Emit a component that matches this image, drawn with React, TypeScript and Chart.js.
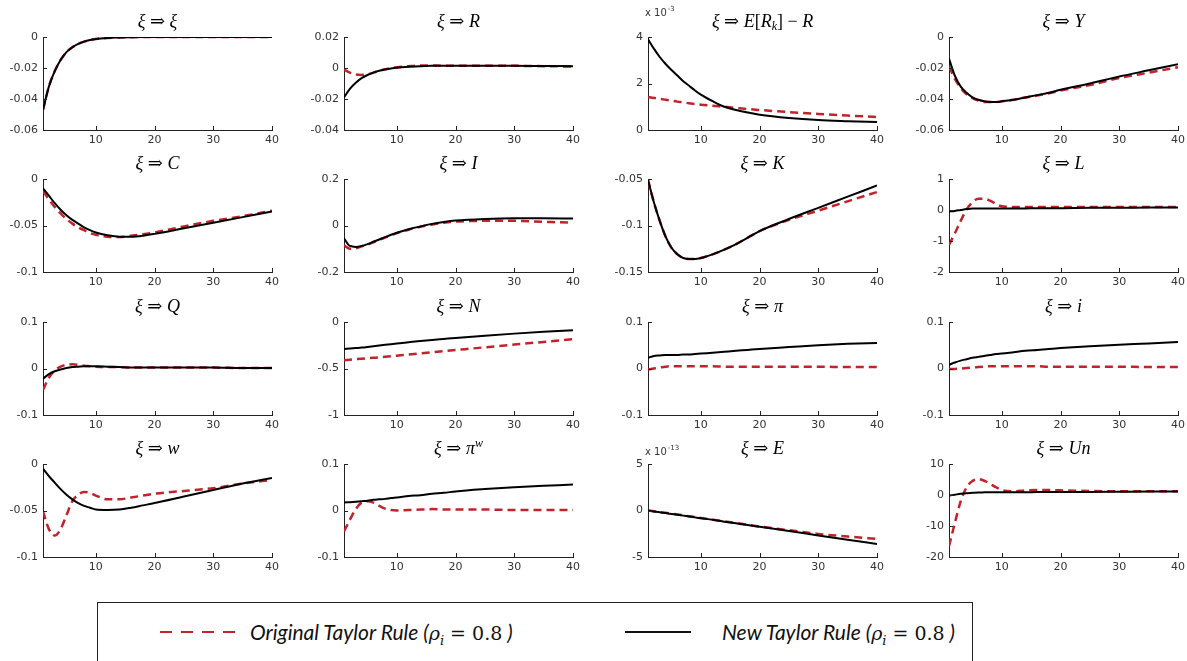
import React, { useEffect, useRef } from "react";
import { Chart, registerables } from "chart.js";
Chart.register(...registerables);

// ---------- data ----------
const PERIODS = [1, 2, 3, 4, 5, 6, 7, 8, 9, 10, 12, 14, 16, 18, 20, 25, 30, 35, 40];
const X_TICKS = [10, 20, 30, 40];
const SERIES_NAMES = ["Original Taylor Rule", "New Taylor Rule"];

const XI_NEW = [-0.047, -0.032, -0.022, -0.0148, -0.0098, -0.0066, -0.0044, -0.003, -0.002, -0.0013, -0.0006, -0.0003, -0.0001, 0, 0, 0, 0, 0, 0];
const XI_ORIG = [-0.047, -0.032, -0.022, -0.0148, -0.0098, -0.0066, -0.0044, -0.003, -0.002, -0.0013, -0.0006, -0.0003, -0.0001, 0, 0, 0, 0, 0, 0];

const R_NEW = [-0.019, -0.0135, -0.0095, -0.0065, -0.0045, -0.003, -0.0018, -0.001, -0.0003, 0.0002, 0.0008, 0.0012, 0.0014, 0.0015, 0.0015, 0.0015, 0.0014, 0.0013, 0.0012];
const R_ORIG = [-0.001, -0.003, -0.0042, -0.0045, -0.004, -0.003, -0.0018, -0.0008, 0, 0.0005, 0.0012, 0.0016, 0.0016, 0.0015, 0.0015, 0.0015, 0.0014, 0.0012, 0.0009];

// in units of 10^-3
const ERK_NEW = [3.9, 3.5, 3.14, 2.84, 2.58, 2.34, 2.1, 1.9, 1.7, 1.52, 1.24, 1.0, 0.86, 0.75, 0.66, 0.52, 0.43, 0.38, 0.34];
const ERK_ORIG = [1.42, 1.38, 1.34, 1.3, 1.26, 1.22, 1.19, 1.15, 1.12, 1.09, 1.04, 1.0, 0.95, 0.9, 0.86, 0.77, 0.69, 0.62, 0.56];

const Y_NEW = [-0.014, -0.025, -0.032, -0.036, -0.039, -0.0405, -0.0415, -0.042, -0.042, -0.0415, -0.0405, -0.039, -0.0375, -0.036, -0.034, -0.03, -0.0255, -0.0215, -0.0175];
const Y_ORIG = [-0.019, -0.027, -0.033, -0.037, -0.0395, -0.041, -0.042, -0.042, -0.042, -0.0415, -0.0405, -0.039, -0.0378, -0.0363, -0.0345, -0.031, -0.0265, -0.023, -0.0195];

const C_NEW = [-0.01, -0.018, -0.026, -0.033, -0.039, -0.044, -0.048, -0.052, -0.055, -0.0575, -0.0605, -0.062, -0.062, -0.061, -0.059, -0.053, -0.047, -0.041, -0.035];
const C_ORIG = [-0.013, -0.022, -0.03, -0.037, -0.043, -0.048, -0.052, -0.055, -0.058, -0.06, -0.062, -0.0625, -0.061, -0.0595, -0.0575, -0.051, -0.045, -0.04, -0.034];

const I_NEW = [-0.055, -0.088, -0.092, -0.088, -0.08, -0.07, -0.06, -0.05, -0.04, -0.031, -0.016, -0.004, 0.007, 0.015, 0.021, 0.028, 0.031, 0.031, 0.03];
const I_ORIG = [-0.085, -0.1, -0.098, -0.09, -0.082, -0.072, -0.062, -0.052, -0.042, -0.033, -0.018, -0.006, 0.004, 0.012, 0.017, 0.02, 0.02, 0.016, 0.012];

const K_NEW = [-0.051, -0.075, -0.095, -0.112, -0.124, -0.131, -0.135, -0.136, -0.136, -0.135, -0.131, -0.126, -0.12, -0.113, -0.106, -0.093, -0.081, -0.069, -0.057];
const K_ORIG = [-0.051, -0.075, -0.095, -0.112, -0.124, -0.131, -0.135, -0.136, -0.136, -0.135, -0.131, -0.126, -0.12, -0.113, -0.106, -0.094, -0.084, -0.074, -0.064];

const L_NEW = [-0.05, -0.03, 0.0, 0.03, 0.05, 0.05, 0.05, 0.05, 0.05, 0.05, 0.05, 0.05, 0.06, 0.06, 0.06, 0.07, 0.07, 0.08, 0.08];
const L_ORIG = [-1.13, -0.75, -0.35, 0.02, 0.25, 0.36, 0.36, 0.3, 0.2, 0.12, 0.1, 0.1, 0.1, 0.1, 0.1, 0.1, 0.1, 0.1, 0.1];

const Q_NEW = [-0.022, -0.012, -0.006, -0.002, 0.001, 0.003, 0.004, 0.005, 0.005, 0.005, 0.004, 0.003, 0.002, 0.002, 0.002, 0.002, 0.002, 0.001, 0.001];
const Q_ORIG = [-0.046, -0.02, -0.004, 0.004, 0.008, 0.009, 0.008, 0.006, 0.005, 0.004, 0.003, 0.003, 0.002, 0.002, 0.002, 0.002, 0.002, 0.001, 0.001];

const N_NEW = [-0.29, -0.285, -0.28, -0.275, -0.268, -0.26, -0.252, -0.245, -0.238, -0.231, -0.218, -0.205, -0.193, -0.182, -0.171, -0.147, -0.125, -0.105, -0.088];
const N_ORIG = [-0.41, -0.405, -0.4, -0.395, -0.39, -0.385, -0.38, -0.374, -0.368, -0.362, -0.35, -0.338, -0.326, -0.314, -0.302, -0.272, -0.243, -0.214, -0.185];

const PI_NEW = [0.023, 0.027, 0.028, 0.029, 0.029, 0.029, 0.03, 0.03, 0.031, 0.032, 0.034, 0.036, 0.038, 0.04, 0.042, 0.046, 0.05, 0.053, 0.055];
const PI_ORIG = [-0.002, 0.0, 0.002, 0.004, 0.005, 0.005, 0.005, 0.005, 0.005, 0.005, 0.005, 0.004, 0.004, 0.004, 0.004, 0.004, 0.004, 0.003, 0.003];

const INT_NEW = [0.008, 0.013, 0.017, 0.02, 0.023, 0.025, 0.027, 0.029, 0.031, 0.032, 0.035, 0.038, 0.04, 0.042, 0.044, 0.048, 0.051, 0.054, 0.057];
const INT_ORIG = [-0.001, -0.001, 0, 0.001, 0.002, 0.003, 0.004, 0.005, 0.005, 0.005, 0.005, 0.005, 0.005, 0.004, 0.004, 0.004, 0.004, 0.003, 0.003];

const W_NEW = [-0.005, -0.013, -0.02, -0.027, -0.033, -0.038, -0.042, -0.045, -0.047, -0.049, -0.0495, -0.049, -0.047, -0.0445, -0.042, -0.035, -0.028, -0.021, -0.015];
const W_ORIG = [-0.051, -0.07, -0.077, -0.07, -0.055, -0.04, -0.033, -0.03, -0.031, -0.034, -0.038, -0.038, -0.036, -0.034, -0.032, -0.029, -0.026, -0.021, -0.017];

const PIW_NEW = [0.017, 0.018, 0.019, 0.02, 0.021, 0.023, 0.024, 0.025, 0.027, 0.028, 0.031, 0.033, 0.036, 0.038, 0.041, 0.046, 0.05, 0.053, 0.056];
const PIW_ORIG = [-0.045, -0.02, 0.003, 0.017, 0.02, 0.017, 0.01, 0.004, 0.001, 0.0, 0.001, 0.002, 0.003, 0.002, 0.002, 0.002, 0.001, 0.001, 0.001];

// in units of 10^-13
const E_NEW = [0, -0.1, -0.2, -0.28, -0.37, -0.46, -0.55, -0.65, -0.74, -0.83, -1.0, -1.2, -1.38, -1.56, -1.75, -2.2, -2.68, -3.15, -3.6];
const E_ORIG = [0, -0.08, -0.17, -0.25, -0.34, -0.43, -0.52, -0.62, -0.71, -0.8, -0.98, -1.17, -1.35, -1.53, -1.72, -2.12, -2.52, -2.8, -3.05];

const UN_NEW = [-0.2, 0.1, 0.4, 0.6, 0.7, 0.8, 0.85, 0.9, 0.9, 0.9, 0.9, 0.9, 0.95, 0.95, 1.0, 1.0, 1.05, 1.1, 1.1];
const UN_ORIG = [-16.5, -9, -2, 2.5, 4.5, 5.1, 4.6, 3.6, 2.5, 1.6, 1.2, 1.5, 1.6, 1.6, 1.5, 1.3, 1.2, 1.2, 1.2];

// y tick values and labels
const YT_XI = [-0.06, -0.04, -0.02, 0];
const YL_XI = ["-0.06", "-0.04", "-0.02", "0"];
const YT_R = [-0.04, -0.02, 0, 0.02];
const YL_R = ["-0.04", "-0.02", "0", "0.02"];
const YT_ERK = [0, 2, 4];
const YL_ERK = ["0", "2", "4"];
const YT_Y = [-0.06, -0.04, -0.02, 0];
const YL_Y = ["-0.06", "-0.04", "-0.02", "0"];
const YT_C = [-0.1, -0.05, 0];
const YL_C = ["-0.1", "-0.05", "0"];
const YT_I = [-0.2, 0, 0.2];
const YL_I = ["-0.2", "0", "0.2"];
const YT_K = [-0.15, -0.1, -0.05];
const YL_K = ["-0.15", "-0.1", "-0.05"];
const YT_L = [-2, -1, 0, 1];
const YL_L = ["-2", "-1", "0", "1"];
const YT_PM1 = [-0.1, 0, 0.1];
const YL_PM1 = ["-0.1", "0", "0.1"];
const YT_N = [-1, -0.5, 0];
const YL_N = ["-1", "-0.5", "0"];
const YT_W = [-0.1, -0.05, 0];
const YL_W = ["-0.1", "-0.05", "0"];
const YT_E = [-5, 0, 5];
const YL_E = ["-5", "0", "5"];
const YT_UN = [-20, -10, 0, 10];
const YL_UN = ["-20", "-10", "0", "10"];

type Seg = [string, "i" | "n" | "sub" | "sup"];
const XI: Seg = ["ξ", "i"];
const ARR: Seg = [" ⇒ ", "n"];

const PANELS = [
  { title: [XI, ARR, ["ξ", "i"]] as Seg[], neo: XI_NEW, orig: XI_ORIG, yt: YT_XI, yl: YL_XI },
  { title: [XI, ARR, ["R", "i"]] as Seg[], neo: R_NEW, orig: R_ORIG, yt: YT_R, yl: YL_R },
  { title: [XI, ARR, ["E", "i"], ["[", "n"], ["R", "i"], ["k", "sub"], ["] − ", "n"], ["R", "i"]] as Seg[], neo: ERK_NEW, orig: ERK_ORIG, yt: YT_ERK, yl: YL_ERK, exp: "-3", expOff: 21 },
  { title: [XI, ARR, ["Y", "i"]] as Seg[], neo: Y_NEW, orig: Y_ORIG, yt: YT_Y, yl: YL_Y },
  { title: [XI, ARR, ["C", "i"]] as Seg[], neo: C_NEW, orig: C_ORIG, yt: YT_C, yl: YL_C },
  { title: [XI, ARR, ["I", "i"]] as Seg[], neo: I_NEW, orig: I_ORIG, yt: YT_I, yl: YL_I },
  { title: [XI, ARR, ["K", "i"]] as Seg[], neo: K_NEW, orig: K_ORIG, yt: YT_K, yl: YL_K },
  { title: [XI, ARR, ["L", "i"]] as Seg[], neo: L_NEW, orig: L_ORIG, yt: YT_L, yl: YL_L },
  { title: [XI, ARR, ["Q", "i"]] as Seg[], neo: Q_NEW, orig: Q_ORIG, yt: YT_PM1, yl: YL_PM1 },
  { title: [XI, ARR, ["N", "i"]] as Seg[], neo: N_NEW, orig: N_ORIG, yt: YT_N, yl: YL_N },
  { title: [XI, ARR, ["π", "i"]] as Seg[], neo: PI_NEW, orig: PI_ORIG, yt: YT_PM1, yl: YL_PM1 },
  { title: [XI, ARR, ["i", "i"]] as Seg[], neo: INT_NEW, orig: INT_ORIG, yt: YT_PM1, yl: YL_PM1 },
  { title: [XI, ARR, ["w", "i"]] as Seg[], neo: W_NEW, orig: W_ORIG, yt: YT_W, yl: YL_W },
  { title: [XI, ARR, ["π", "i"], ["w", "sup"]] as Seg[], neo: PIW_NEW, orig: PIW_ORIG, yt: YT_PM1, yl: YL_PM1 },
  { title: [XI, ARR, ["E", "i"]] as Seg[], neo: E_NEW, orig: E_ORIG, yt: YT_E, yl: YL_E, exp: "-13", expOff: 9 },
  { title: [XI, ARR, ["Un", "i"]] as Seg[], neo: UN_NEW, orig: UN_ORIG, yt: YT_UN, yl: YL_UN },
];

// ---------- layout ----------
const COL_LEFT = [43, 344, 648, 949];
const ROW_TOP = [37, 179, 322, 464];
const PLOT_W = 229;
const PLOT_H = 93;
const AX_W = 50;
const AX_H = 20;
const PAD_T = 32;
const PAD_R = 12;
const RED = "#c2232b";

const FONTS: Record<string, string> = {
  i: 'italic 18px "Liberation Serif", "DejaVu Serif", serif',
  n: '18px "Liberation Serif", "DejaVu Serif", serif',
  sub: 'italic 12px "Liberation Serif", "DejaVu Serif", serif',
  sup: 'italic 12px "Liberation Serif", "DejaVu Serif", serif',
};
const DY: Record<string, number> = { i: 0, n: 0, sub: 3, sup: -7 };

function decoPlugin(p: any) {
  return {
    id: "deco",
    afterDraw(chart: any) {
      const { ctx, chartArea: a, scales } = chart;
      ctx.save();
      ctx.strokeStyle = "#222";
      ctx.lineWidth = 1;
      ctx.beginPath();
      X_TICKS.forEach((t) => {
        const x = Math.round(scales.x.getPixelForValue(t)) + 0.5;
        ctx.moveTo(x, a.bottom);
        ctx.lineTo(x, a.bottom - 4);
      });
      p.yt.forEach((t: number) => {
        const y = Math.round(scales.y.getPixelForValue(t)) + 0.5;
        ctx.moveTo(a.left, y);
        ctx.lineTo(a.left + 4, y);
      });
      ctx.stroke();

      // title
      ctx.fillStyle = "#000";
      ctx.textAlign = "left";
      ctx.textBaseline = "alphabetic";
      let total = 0;
      for (const [t, k] of p.title) {
        ctx.font = FONTS[k];
        total += ctx.measureText(t).width;
      }
      let x = (a.left + a.right) / 2 - total / 2;
      const y = a.top - 10;
      for (const [t, k] of p.title) {
        ctx.font = FONTS[k];
        ctx.fillText(t, x, y + DY[k]);
        x += ctx.measureText(t).width;
      }

      // exponent label
      if (p.exp) {
        ctx.fillStyle = "#333";
        ctx.font = '10px "DejaVu Sans", sans-serif';
        const by = a.top - p.expOff;
        const bx = a.left - 3;
        ctx.fillText("x 10", bx, by);
        const w = ctx.measureText("x 10").width;
        ctx.font = '7px "DejaVu Sans", sans-serif';
        ctx.fillText(p.exp, bx + w + 1, by - 5);
      }
      ctx.restore();
    },
  };
}

function Panel({ p, left, top }: { p: any; left: number; top: number }) {
  const ref = useRef<HTMLCanvasElement>(null);
  const W = PLOT_W + AX_W + PAD_R;
  const H = PLOT_H + PAD_T + AX_H;
  useEffect(() => {
    const tickFont = { family: '"DejaVu Sans", sans-serif', size: 11 };
    const chart = new Chart(ref.current as HTMLCanvasElement, {
      type: "line",
      data: {
        datasets: [
          {
            label: SERIES_NAMES[1],
            data: PERIODS.map((x, i) => ({ x, y: p.neo[i] })),
            borderColor: "#000",
            borderWidth: 2,
            pointRadius: 0,
            cubicInterpolationMode: "monotone",
            order: 0,
          },
          {
            label: SERIES_NAMES[0],
            data: PERIODS.map((x, i) => ({ x, y: p.orig[i] })),
            borderColor: RED,
            borderWidth: 2.5,
            borderDash: [8, 5],
            pointRadius: 0,
            cubicInterpolationMode: "monotone",
            order: 1,
          },
        ],
      },
      options: {
        responsive: false,
        animation: false,
        devicePixelRatio: 1,
        events: [],
        layout: { padding: { top: PAD_T, right: PAD_R, left: 0, bottom: 0 } },
        plugins: { legend: { display: false }, tooltip: { enabled: false }, title: { display: false } },
        scales: {
          x: {
            type: "linear",
            min: 1,
            max: 40,
            afterBuildTicks: (s: any) => {
              s.ticks = X_TICKS.map((v) => ({ value: v }));
            },
            afterFit: (s: any) => {
              s.height = AX_H;
            },
            grid: { drawOnChartArea: false, drawTicks: false },
            border: { color: "#222", width: 1 },
            ticks: {
              padding: 4,
              color: "#333",
              font: tickFont,
              maxRotation: 0,
              autoSkip: false,
              callback: (v: any) => String(v),
            },
          },
          y: {
            type: "linear",
            min: p.yt[0],
            max: p.yt[p.yt.length - 1],
            afterBuildTicks: (s: any) => {
              s.ticks = p.yt.map((v: number) => ({ value: v }));
            },
            afterFit: (s: any) => {
              s.width = AX_W;
            },
            grid: { drawOnChartArea: false, drawTicks: false },
            border: { color: "#222", width: 1 },
            ticks: {
              padding: 5,
              color: "#333",
              font: tickFont,
              autoSkip: false,
              callback: (_v: any, i: number) => p.yl[i],
            },
          },
        },
      } as any,
      plugins: [decoPlugin(p)],
    });
    return () => chart.destroy();
  }, [p]);
  return (
    <canvas
      ref={ref}
      width={W}
      height={H}
      style={{ position: "absolute", left: left - AX_W, top: top - PAD_T, width: W, height: H }}
    />
  );
}

const mathStyle: React.CSSProperties = { fontFamily: '"DejaVu Serif", serif', fontStyle: "normal", fontSize: 19 };

function RuleLabel({ name }: { name: string }) {
  return (
    <span style={{ fontFamily: "Lato, sans-serif", fontStyle: "italic", fontSize: 21, color: "#111", whiteSpace: "nowrap" }}>
      {name} (
      <span style={mathStyle}>
        <i>ρ</i>
        <sub style={{ fontSize: 13, fontStyle: "italic" }}>i</sub> = 0.8
      </span>{" "}
      )
    </span>
  );
}

export default function App() {
  return (
    <div style={{ position: "absolute", left: 0, top: 0, width: 1187, height: 661, background: "#fff", overflow: "hidden" }}>
      {PANELS.map((p, idx) => (
        <Panel key={idx} p={p} left={COL_LEFT[idx % 4]} top={ROW_TOP[Math.floor(idx / 4)]} />
      ))}
      <div
        style={{
          position: "absolute",
          left: 97,
          top: 602,
          width: 876,
          height: 80,
          border: "1.5px solid #222",
          boxSizing: "border-box",
        }}
      />
      <svg style={{ position: "absolute", left: 160, top: 626 }} width={78} height={12}>
        <line x1={0} y1={6} x2={78} y2={6} stroke={RED} strokeWidth={2} strokeDasharray="12 9" />
      </svg>
      <div style={{ position: "absolute", left: 250, top: 618, lineHeight: "28px" }}>
        <RuleLabel name={SERIES_NAMES[0]} />
      </div>
      <svg style={{ position: "absolute", left: 625, top: 626 }} width={66} height={12}>
        <line x1={0} y1={6} x2={66} y2={6} stroke="#111" strokeWidth={2.2} />
      </svg>
      <div style={{ position: "absolute", left: 722, top: 618, lineHeight: "28px" }}>
        <RuleLabel name={SERIES_NAMES[1]} />
      </div>
    </div>
  );
}
